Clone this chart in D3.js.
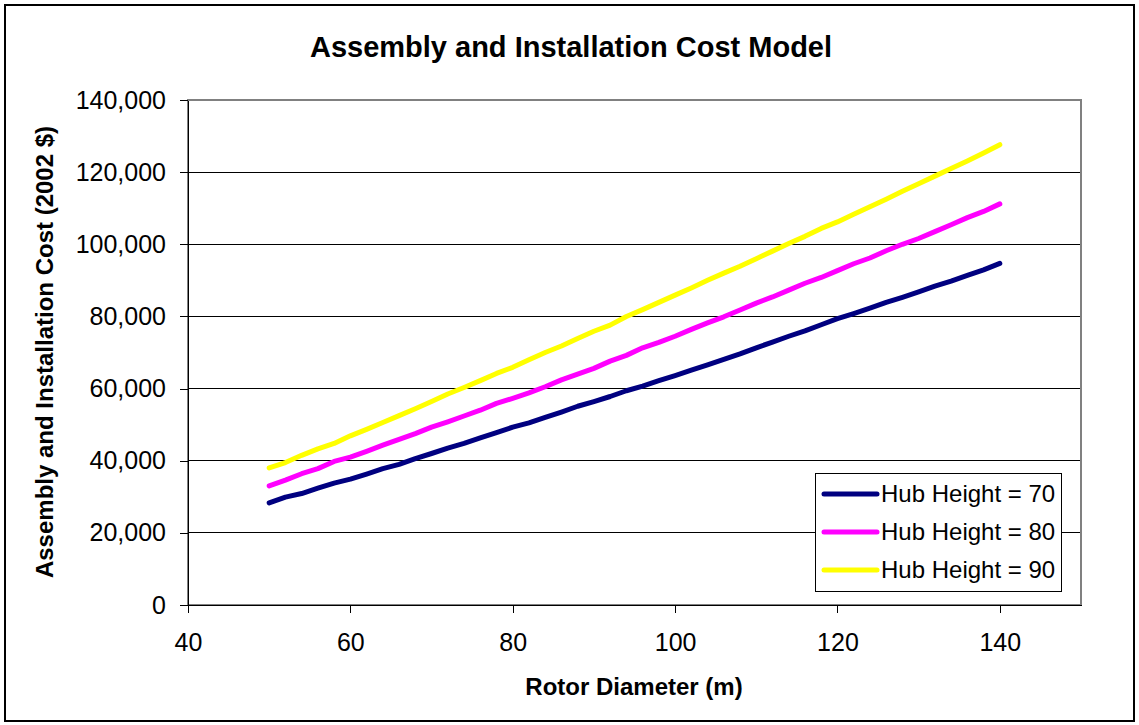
<!DOCTYPE html>
<html>
<head>
<meta charset="utf-8">
<script src="https://cdn.jsdelivr.net/npm/d3@7"></script>
<style>
  body { margin: 0; background: #fff; }
  svg text { font-family: "Liberation Sans", Arial, sans-serif; }
</style>
</head>
<body>
<div id="chart"></div>
<script>
const diameters = [50, 52, 54, 56, 58, 60, 62, 64, 66, 68, 70, 72, 74, 76, 78, 80, 82, 84, 86, 88, 90, 92, 94,
  96, 98, 100, 102, 104, 106, 108, 110, 112, 114, 116, 118, 120, 122, 124, 126, 128, 130, 132, 134, 136, 138, 140];

const hub70 = [28300, 29900, 30900, 32400, 33800, 34900, 36300, 37800, 39000, 40600, 42000, 43500, 44800,
  46300, 47800, 49300, 50500, 52000, 53500, 55100, 56400, 57800, 59400, 60700, 62200, 63600, 65100, 66600,
  68100, 69600, 71300, 72900, 74500, 76000, 77700, 79400, 80800, 82300, 83900, 85300, 86800, 88400, 89800,
  91400, 92900, 94700];

const hub80 = [33000, 34600, 36400, 37800, 39800, 41000, 42600, 44300, 45900, 47500, 49300, 50800, 52400,
  54000, 55900, 57300, 58800, 60500, 62400, 64000, 65600, 67600, 69200, 71300, 72800, 74500, 76400, 78200,
  79900, 81800, 83700, 85400, 87300, 89200, 90800, 92700, 94600, 96200, 98200, 100000, 101600, 103500,
  105400, 107400, 109100, 111200];

const hub90 = [38000, 39500, 41500, 43300, 44800, 46900, 48700, 50600, 52500, 54400, 56400, 58500, 60300,
  62200, 64200, 65900, 68000, 70000, 71800, 73900, 75900, 77600, 80000, 81900, 83900, 85900, 87900, 90000,
  92000, 93900, 96000, 98100, 100200, 102200, 104400, 106200, 108300, 110400, 112500, 114700, 116800,
  118900, 121000, 123100, 125300, 127600];

const seriesNames = ['Hub Height = 70', 'Hub Height = 80', 'Hub Height = 90'];
const seriesColors = ['#000080', '#ff00ff', '#ffff00'];
const xTicks = [40, 60, 80, 100, 120, 140];
const yTicks = [0, 20000, 40000, 60000, 80000, 100000, 120000, 140000];

const width = 1139;
const height = 725;
const margin = { top: 100, right: 58, bottom: 120, left: 188 };

const svg = d3.select('#chart')
  .append('svg')
  .attr('width', width)
  .attr('height', height);

// outer chart frame
svg.append('rect')
  .attr('x', 5).attr('y', 5)
  .attr('width', width - 10).attr('height', height - 9)
  .attr('fill', '#fff')
  .attr('stroke', '#000')
  .attr('stroke-width', 2);

const x = d3.scaleLinear()
  .domain([40, 150])
  .range([margin.left, width - margin.right]);

const y = d3.scaleLinear()
  .domain([0, 140000])
  .range([height - margin.bottom, margin.top]);

// gridlines
svg.append('g')
  .selectAll('line')
  .data(yTicks.slice(1, -1))
  .join('line')
    .attr('x1', x(40))
    .attr('x2', x(150))
    .attr('y1', d => y(d))
    .attr('y2', d => y(d))
    .attr('stroke', '#000')
    .attr('stroke-width', 1)
    .attr('shape-rendering', 'crispEdges');

// plot area border
svg.append('rect')
  .attr('x', x(40)).attr('y', y(140000))
  .attr('width', x(150) - x(40))
  .attr('height', y(0) - y(140000))
  .attr('fill', 'none')
  .attr('stroke', '#808080')
  .attr('stroke-width', 1.5)
  .attr('shape-rendering', 'crispEdges');

function yAxis(g) {
  g.attr('transform', `translate(${margin.left},0)`)
    .call(d3.axisLeft(y).tickValues(yTicks).tickFormat(d3.format(',')).tickSize(8).tickSizeOuter(0).tickPadding(14))
    .attr('font-size', '25px')
    .attr('font-family', '"Liberation Sans", Arial, sans-serif');
  g.selectAll('line, path').attr('stroke', '#000').attr('shape-rendering', 'crispEdges');
  g.selectAll('text').attr('fill', '#000');
}

function xAxis(g) {
  g.attr('transform', `translate(0,${height - margin.bottom})`)
    .call(d3.axisBottom(x).tickValues(xTicks).tickSize(8).tickSizeOuter(0).tickPadding(20))
    .attr('font-size', '25px')
    .attr('font-family', '"Liberation Sans", Arial, sans-serif');
  g.selectAll('line, path').attr('stroke', '#000').attr('shape-rendering', 'crispEdges');
  g.selectAll('text').attr('fill', '#000');
}

svg.append('g').call(xAxis);
svg.append('g').call(yAxis);

// series lines
const allSeries = [hub70, hub80, hub90];
const line = d3.line()
  .x((d, i) => x(diameters[i]))
  .y(d => y(d));

svg.append('g')
  .selectAll('path')
  .data(allSeries)
  .join('path')
    .attr('d', d => line(d))
    .attr('fill', 'none')
    .attr('stroke', (d, i) => seriesColors[i])
    .attr('stroke-width', 5)
    .attr('stroke-linecap', 'round')
    .attr('stroke-linejoin', 'round');

// titles
svg.append('text')
  .attr('x', 571).attr('y', 57)
  .attr('text-anchor', 'middle')
  .attr('font-size', '29px')
  .attr('font-weight', 'bold')
  .text('Assembly and Installation Cost Model');

svg.append('text')
  .attr('x', 634).attr('y', 695)
  .attr('text-anchor', 'middle')
  .attr('font-size', '24px')
  .attr('font-weight', 'bold')
  .text('Rotor Diameter (m)');

svg.append('text')
  .attr('transform', 'translate(53,352) rotate(-90)')
  .attr('text-anchor', 'middle')
  .attr('font-size', '24px')
  .attr('font-weight', 'bold')
  .text('Assembly and Installation Cost (2002 $)');

// legend
const legend = svg.append('g').attr('transform', 'translate(815,473)');
legend.append('rect')
  .attr('width', 246).attr('height', 118)
  .attr('fill', '#fff')
  .attr('stroke', '#000')
  .attr('stroke-width', 1)
  .attr('shape-rendering', 'crispEdges');

const items = legend.selectAll('g.item')
  .data(seriesNames)
  .join('g')
    .attr('class', 'item')
    .attr('transform', (d, i) => `translate(0,${21 + i * 38})`);

items.append('line')
  .attr('x1', 9).attr('x2', 62)
  .attr('stroke', (d, i) => seriesColors[i])
  .attr('stroke-width', 5)
  .attr('stroke-linecap', 'round');

items.append('text')
  .attr('x', 66).attr('y', 8)
  .attr('font-size', '24px')
  .text(d => d);
</script>
</body>
</html>
